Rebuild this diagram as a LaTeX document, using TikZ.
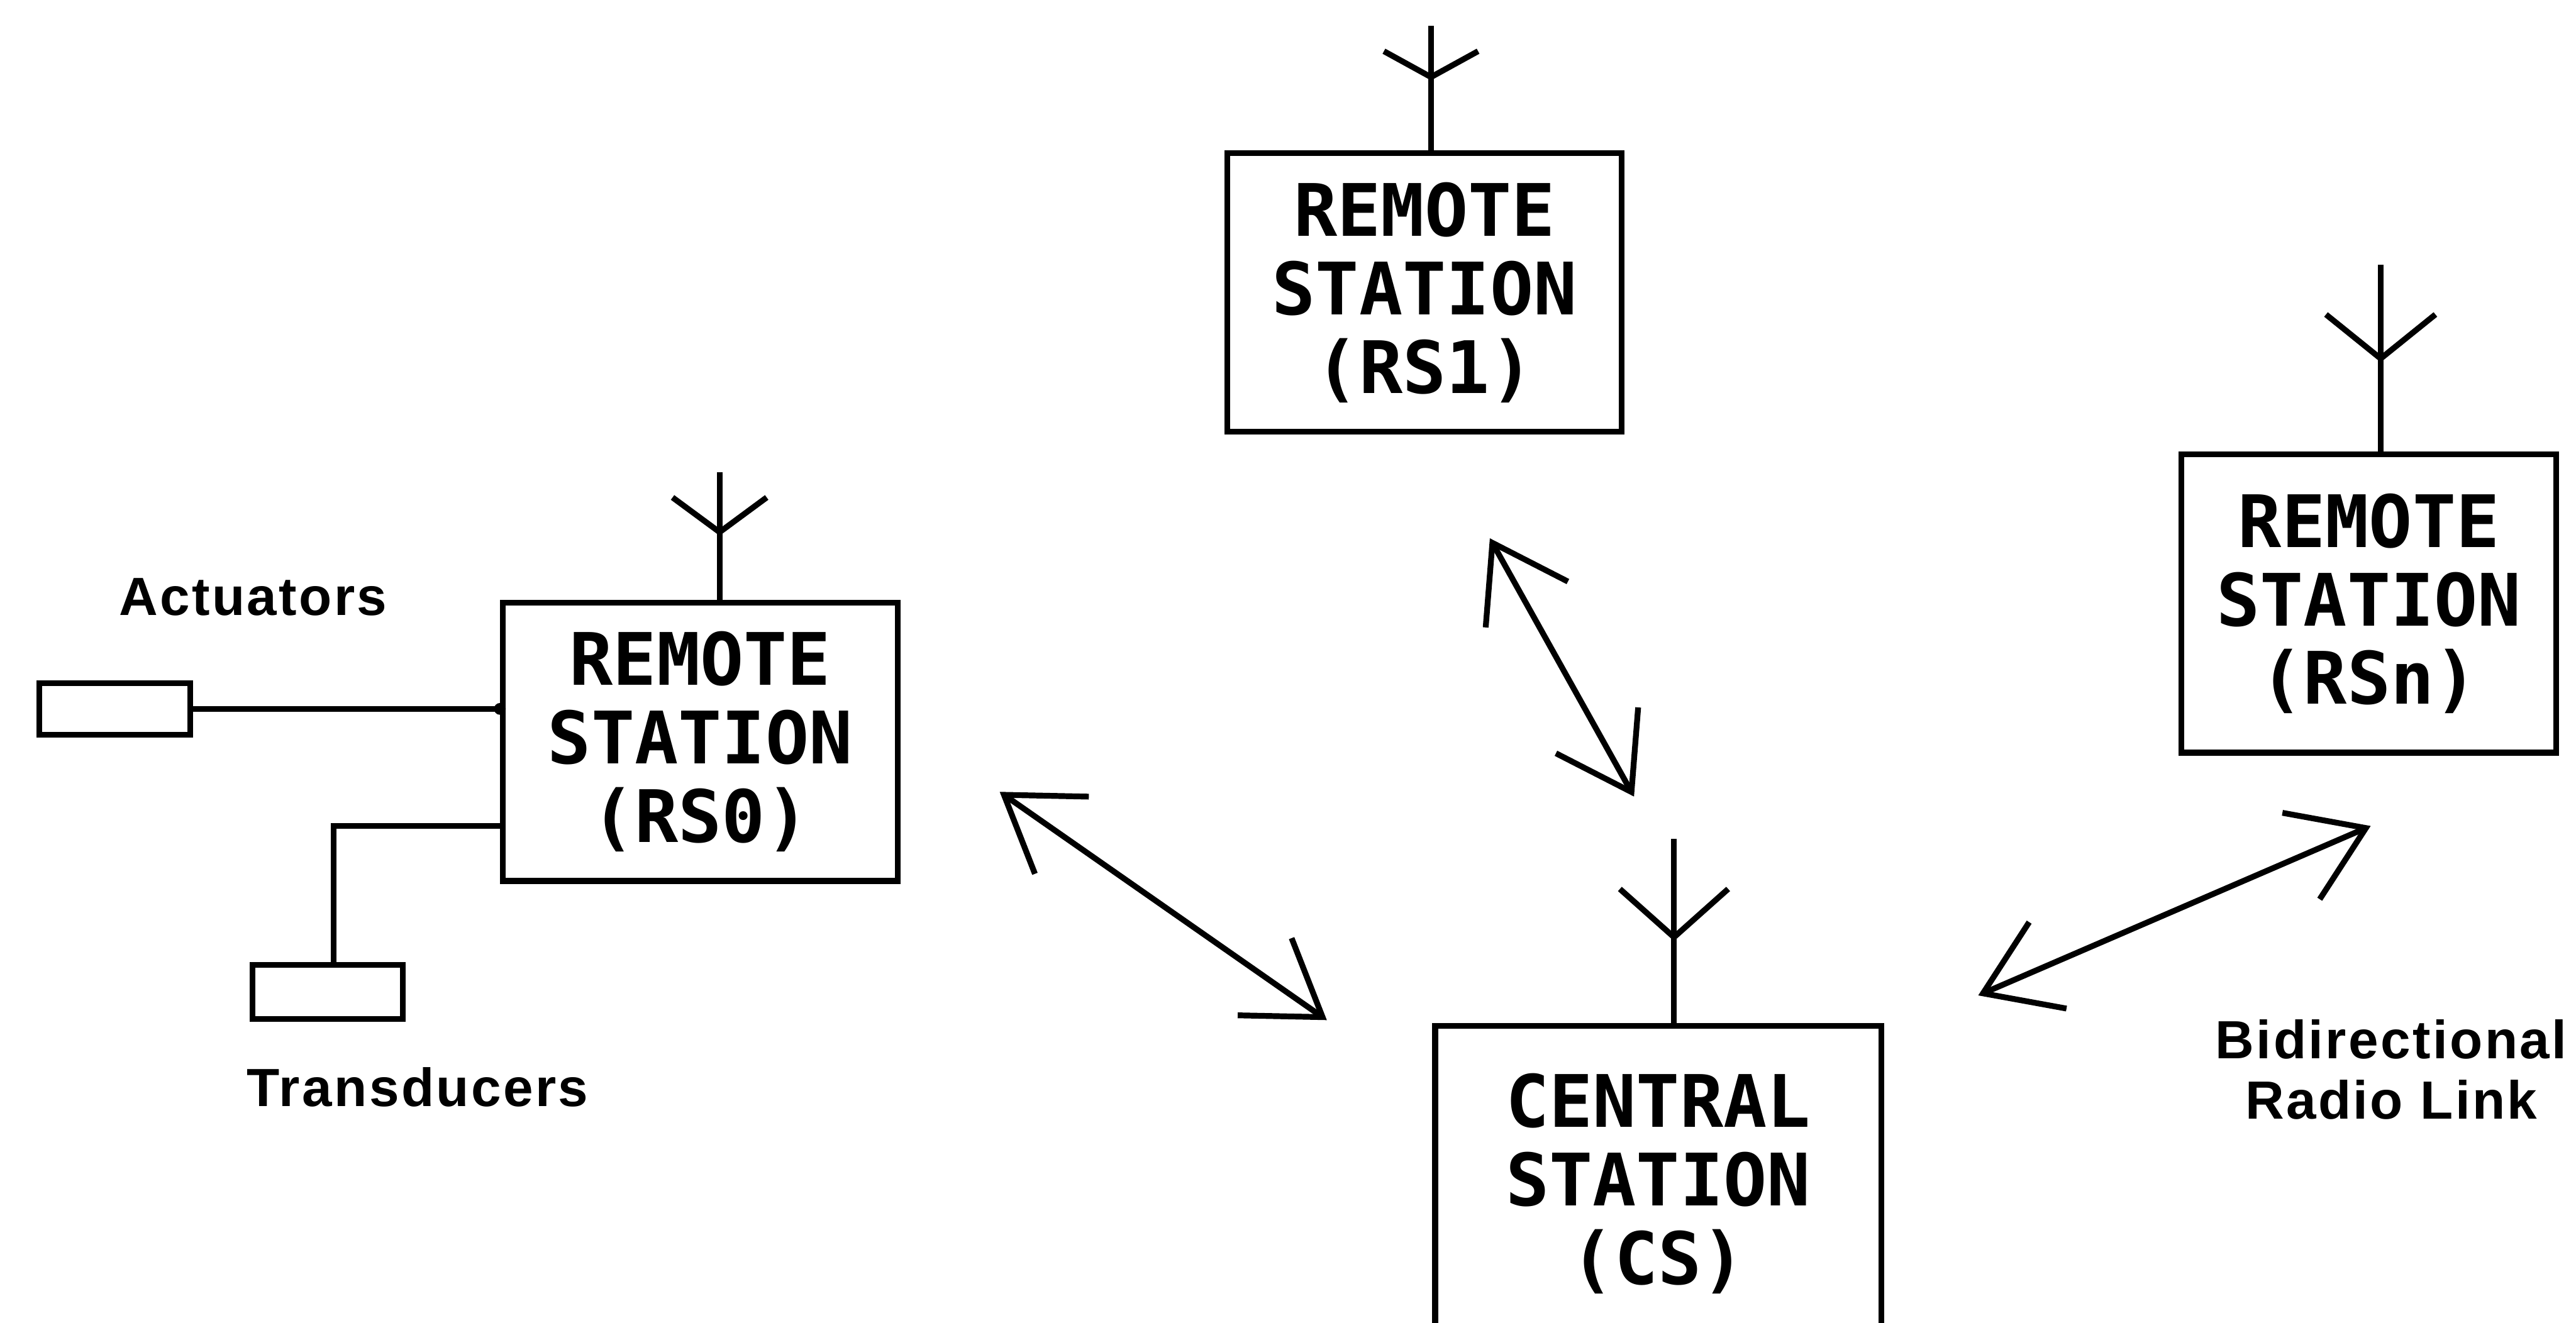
\documentclass[tikz,border=0pt]{standalone}
\usepackage{fontspec}
\newfontfamily\stnfont{DejaVu Sans Mono}
\newfontfamily\lblfont{Liberation Sans}[LetterSpace=4]
\usetikzlibrary{arrows.meta,calc}
\begin{document}
\begin{tikzpicture}[>={Straight Barb[length=0.6cm,width=0.8cm]},line width=1.4pt]
\tikzstyle{stn}=[draw,align=center,inner sep=0pt,font=\stnfont\bfseries\fontsize{17.5}{19}\selectfont]
\tikzstyle{dev}=[draw,minimum width=1.28cm,minimum height=0.44cm,inner sep=0pt]
\tikzstyle{lbl}=[font=\lblfont\bfseries\fontsize{13}{14.6}\selectfont,align=center]
\useasboundingbox (0,0) rectangle (21.89,-11.24);
\fill[white] (0,0) rectangle (21.89,-11.24);
\clip (0,0) rectangle (21.89,-11.24);
\node[stn,minimum width=3.35cm,minimum height=2.37cm] (rs1) at (12.105,-2.485) {REMOTE\\STATION\\(RS1)};
\node[stn,minimum width=3.185cm,minimum height=2.535cm] (rsn) at (20.13,-5.13) {REMOTE\\STATION\\(RSn)};
\node[stn,minimum width=3.355cm,minimum height=2.365cm] (rs0) at (5.95,-6.305) {REMOTE\\STATION\\(RS0)};
\node[stn,minimum width=3.79cm,minimum height=2.68cm] (cs) at (14.09,-10.06) {CENTRAL\\STATION\\(CS)};
\foreach \s/\dx/\t/\f/\j/\w in {rs1/0.055/1.055/0.84/0.62/0.4,rsn/0.1/1.59/1.165/0.79/0.465,rs0/0.165/1.085/0.87/0.575/0.4,cs/0.135/1.565/1.14/0.73/0.46} {
 \draw ([xshift=\dx cm]\s.north) -- ++(0,\t);
 \draw ([xshift=\dx cm]\s.north) ++(-\w,\f) -- ++(\w,\j-\f) -- ++(\w,\f-\j);
}
\node[dev] (act) at (0.975,-6.025) {};
\node[dev,minimum height=0.46cm] (trn) at (2.785,-8.43) {};
\coordinate (ain) at (act.east -| rs0.west);
\coordinate (tin) at ([yshift=-0.715cm]rs0.west);
\draw (act.east) -- (ain);
\fill (ain) circle (0.05);
\draw ([xshift=0.05cm]trn.north) |- (tin);
\node[lbl] (actlbl) at (2.15,-5.075) {Actuators};
\node[lbl] (trnlbl) at (3.55,-9.24) {Transducers};
\node[lbl] (linklbl) at (20.32,-9.09) {Bidirectional\\Radio Link};
\coordinate (a1) at (8.495,-6.73); \coordinate (a2) at (11.275,-8.67);
\coordinate (b1) at (12.66,-4.575); \coordinate (b2) at (13.885,-6.77);
\coordinate (c1) at (16.81,-8.46); \coordinate (c2) at (20.145,-7.02);
\draw[<->] (a1) -- (a2);
\draw[<->] (b1) -- (b2);
\draw[<->] (c1) -- (c2);
\end{tikzpicture}
\end{document}
